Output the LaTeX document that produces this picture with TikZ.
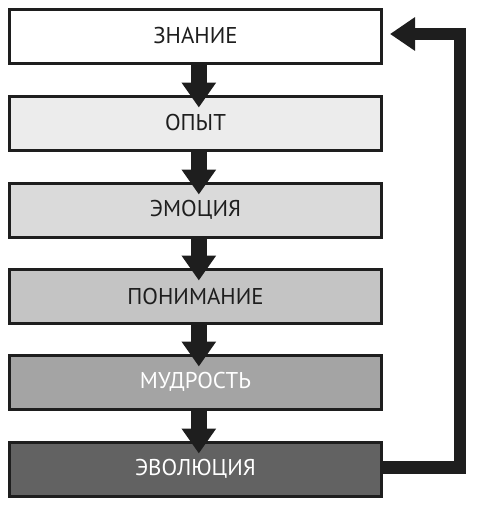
\documentclass[tikz,border=0pt]{standalone}
\usepackage{fontspec}
\setmainfont{PT Sans}
\usetikzlibrary{arrows.meta}

\definecolor{ink}{HTML}{1E1E1E}
\definecolor{step1}{HTML}{FFFFFF}
\definecolor{step2}{HTML}{ECECEC}
\definecolor{step3}{HTML}{DADADA}
\definecolor{step4}{HTML}{C4C4C4}
\definecolor{step5}{HTML}{A4A4A4}
\definecolor{step6}{HTML}{626262}

\begin{document}
\begin{tikzpicture}[
    stage/.style={draw=ink, line width=0.09cm, minimum width=11.16cm,
      minimum height=1.62cm, inner sep=0pt, text=ink,
      font=\fontsize{19.5}{21}\selectfont},
    down/.style={draw=ink, line width=0.46cm,
      -{Triangle[width=0.99cm,length=0.75cm]}},
    back/.style={draw=ink, line width=0.37cm, line join=miter,
      -{Triangle[width=0.96cm,length=0.75cm]}}
  ]

  \useasboundingbox (0,0) rectangle (14.37,-15.15);

  % Stages
  \node[stage, fill=step1] (znanie) at (5.865,-1.08) {ЗНАНИЕ};
  \node[stage, fill=step2] (opyt) at (5.865,-3.69) {ОПЫТ};
  \node[stage, fill=step3] (emociya) at (5.865,-6.30) {ЭМОЦИЯ};
  \node[stage, fill=step4] (ponimanie) at (5.865,-8.88) {ПОНИМАНИЕ};
  \node[stage, fill=step5, text=white] (mudrost) at (5.865,-11.46) {МУДРОСТЬ};
  \node[stage, fill=step6, text=white] (evolyuciya) at (5.865,-14.07) {ЭВОЛЮЦИЯ};

  % Arrows down
  \draw[down] ([xshift=0.1cm]znanie.south) -- ([xshift=0.1cm,yshift=-0.39cm]opyt.north);
  \draw[down] ([xshift=0.1cm]opyt.south) -- ([xshift=0.1cm,yshift=-0.39cm]emociya.north);
  \draw[down] ([xshift=0.1cm]emociya.south) -- ([xshift=0.1cm,yshift=-0.39cm]ponimanie.north);
  \draw[down] ([xshift=0.1cm]ponimanie.south) -- ([xshift=0.1cm,yshift=-0.39cm]mudrost.north);
  \draw[down] ([xshift=0.1cm]mudrost.south) -- ([xshift=0.1cm,yshift=-0.39cm]evolyuciya.north);

  % Feedback loop
  \coordinate (corner) at (13.8,-1.02);
  \draw[back] ([yshift=0.05cm]evolyuciya.east) -| (corner)
    -- ([xshift=0.21cm,yshift=0.06cm]znanie.east);

\end{tikzpicture}
\end{document}
